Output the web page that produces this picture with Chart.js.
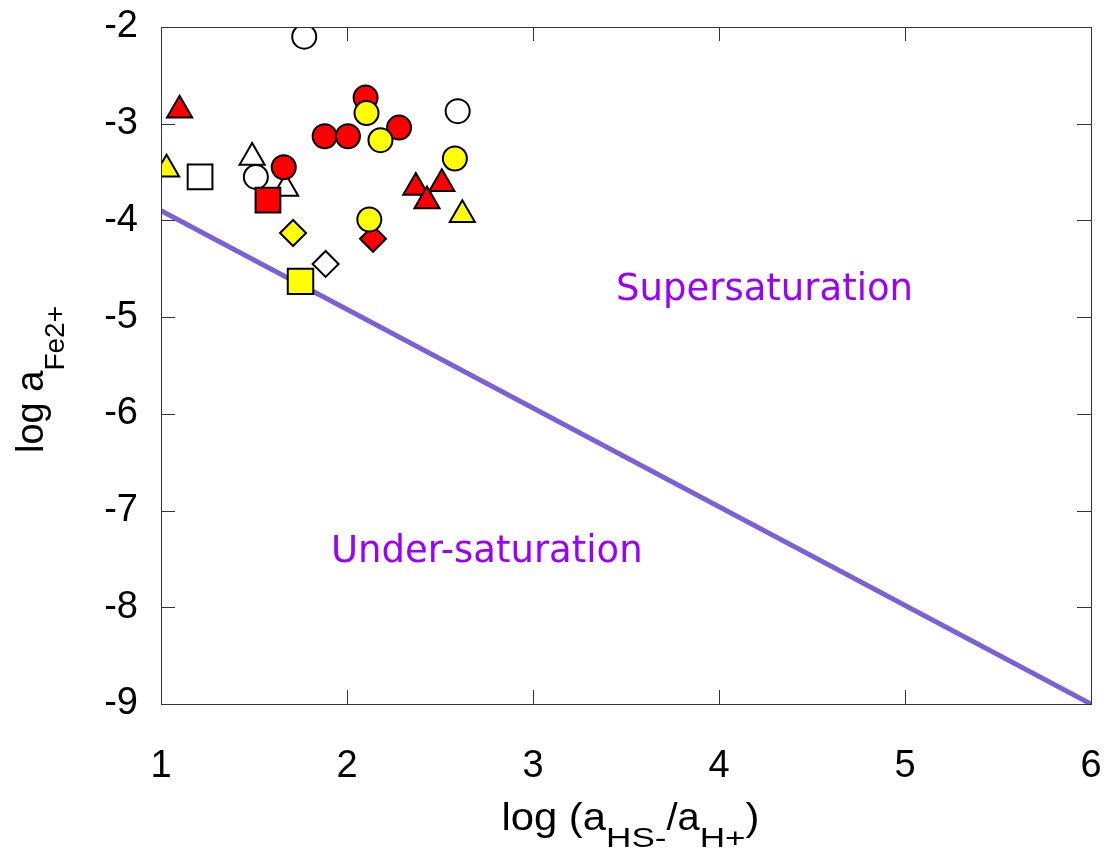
<!DOCTYPE html>
<html>
<head>
<meta charset="utf-8">
<script src="https://cdn.jsdelivr.net/npm/chart.js@4.4.0/dist/chart.umd.min.js"></script>
<style>
  html, body { margin: 0; padding: 0; background: #fff; overflow: hidden; }
  canvas { display: block; }
</style>
</head>
<body>
<canvas id="chart" width="1111" height="861"></canvas>
<script>
// saturation boundary
const boundaryX = [1, 6];
const boundaryY = [-3.9, -9];

// samples, grouped by marker
const openCircle = [[1.77, -2.10], [1.51, -3.55], [2.595, -2.87]];
const redCircle = [[1.88, -3.13], [2.005, -3.13], [2.28, -3.04], [2.10, -2.73], [1.66, -3.45]];
const yellowCircle = [[2.105, -2.89], [2.18, -3.17], [2.58, -3.36], [2.12, -3.99]];
const openTriangle = [[1.49, -3.35], [1.67, -3.67]];
const redTriangle = [[1.10, -2.86], [2.37, -3.66], [2.51, -3.62], [2.43, -3.80]];
const yellowTriangle = [[1.03, -3.47], [2.62, -3.94]];
const openSquare = [[1.21, -3.55]];
const redSquare = [[1.575, -3.79]];
const yellowSquare = [[1.75, -4.63]];
const openDiamond = [[1.885, -4.45]];
const redDiamond = [[2.14, -4.19]];
const yellowDiamond = [[1.71, -4.13]];

const xTicks = [1, 2, 3, 4, 5, 6];
const yTicks = [-9, -8, -7, -6, -5, -4, -3, -2];

const toPts = arr => arr.map(p => ({ x: p[0], y: p[1] }));

function markers(data, color, style, radius) {
    return {
        type: 'scatter',
        data: toPts(data),
        backgroundColor: color,
        borderColor: '#000',
        borderWidth: 2,
        pointStyle: style,
        pointRadius: radius,
        pointHoverRadius: radius,
        order: 1
    };
}

// text with optional horizontal stretch, returns advance
function stretched(ctx, text, x, y, font, sx) {
    ctx.font = font;
    const w = ctx.measureText(text).width * sx;
    ctx.save();
    ctx.translate(x, y);
    ctx.scale(sx, 1);
    ctx.fillText(text, 0, 0);
    ctx.restore();
    return w;
}

// inward ticks on all four sides + titles and region labels
const decor = {
    id: 'decor',
    afterDraw(chart) {
        const { ctx, chartArea: a, scales: { x, y } } = chart;
        ctx.save();
        ctx.strokeStyle = '#333';
        ctx.lineWidth = 1;
        ctx.strokeRect(a.left + 0.5, a.top + 0.5, a.right - a.left, a.bottom - a.top);
        const len = 14;
        ctx.beginPath();
        xTicks.forEach(v => {
            const px = Math.round(x.getPixelForValue(v)) + 0.5;
            ctx.moveTo(px, a.bottom); ctx.lineTo(px, a.bottom - len);
            ctx.moveTo(px, a.top); ctx.lineTo(px, a.top + len);
        });
        yTicks.forEach(v => {
            const py = Math.round(y.getPixelForValue(v)) + 0.5;
            ctx.moveTo(a.left, py); ctx.lineTo(a.left + len, py);
            ctx.moveTo(a.right, py); ctx.lineTo(a.right - len, py);
        });
        ctx.stroke();

        // x title
        const big = '38px "Liberation Sans", Arial, sans-serif';
        const small = '27px "Liberation Sans", Arial, sans-serif';
        const xParts = [['log (a', big, 0, 1.1], ['HS-', small, 17, 1.3], ['/a', big, 0, 1.05], ['H+', small, 17, 1.3], [')', big, 0, 1.1]];
        ctx.fillStyle = '#000';
        ctx.textBaseline = 'alphabetic';
        ctx.textAlign = 'left';
        let total = 0;
        xParts.forEach(p => { ctx.font = p[1]; total += ctx.measureText(p[0]).width * p[3]; });
        let cx = (a.left + a.right) / 2 + 4.5 - total / 2;
        xParts.forEach(p => { cx += stretched(ctx, p[0], cx, 830 + p[2], p[1], p[3]); });

        // y title
        ctx.save();
        ctx.translate(43, 453);
        ctx.rotate(-Math.PI / 2);
        ctx.font = big;
        ctx.fillText('log a', 0, 0);
        const w = ctx.measureText('log a').width;
        ctx.font = '28px "Liberation Sans", Arial, sans-serif';
        ctx.fillText('Fe2+', w, 21);
        ctx.restore();

        // region labels
        ctx.font = '37px "DejaVu Sans", Verdana, sans-serif';
        ctx.fillStyle = '#9900ff';
        ctx.fillText('Supersaturation', 616, 300);
        ctx.fillText('Under-saturation', 331, 562);
        ctx.restore();
    }
};

const noPad = s => { s.paddingLeft = 0; s.paddingRight = 0; s.paddingTop = 0; s.paddingBottom = 0; };

new Chart(document.getElementById('chart'), {
    data: {
        datasets: [
            markers(yellowCircle, '#ffff00', 'circle', 12),
            markers(redCircle, '#ff0000', 'circle', 12),
            markers(redSquare, '#ff0000', 'rect', 17.5),
            markers(yellowSquare, '#ffff00', 'rect', 18),
            markers(openCircle, '#ffffff', 'circle', 12),
            markers(openSquare, '#ffffff', 'rect', 17.5),
            markers(redTriangle, '#ff0000', 'triangle', 14.5),
            markers(yellowTriangle, '#ffff00', 'triangle', 14.5),
            markers(openTriangle, '#ffffff', 'triangle', 14.5),
            markers(yellowDiamond, '#ffff00', 'rectRot', 13),
            markers(redDiamond, '#ff0000', 'rectRot', 13),
            markers(openDiamond, '#ffffff', 'rectRot', 13),
            {
                type: 'line',
                data: boundaryX.map((v, i) => ({ x: v, y: boundaryY[i] })),
                borderColor: '#7b61d9',
                borderWidth: 5,
                pointRadius: 0,
                fill: false,
                order: 10
            }
        ]
    },
    options: {
        responsive: false,
        animation: false,
        events: [],
        layout: { padding: { left: 0, top: 27, right: 18, bottom: 0 } },
        plugins: { legend: { display: false }, tooltip: { enabled: false } },
        scales: {
            x: {
                type: 'linear',
                min: 1, max: 6,
                afterFit: s => { s.height = 157; noPad(s); },
                afterBuildTicks: s => { s.ticks = xTicks.map(v => ({ value: v })); },
                grid: { display: false, drawTicks: false },
                border: { display: false },
                ticks: {
                    color: '#000',
                    padding: 40,
                    maxRotation: 0,
                    font: { family: '"Liberation Sans", Arial, sans-serif', size: 38 }
                }
            },
            y: {
                type: 'linear',
                min: -9, max: -2,
                afterFit: s => { s.width = 161; noPad(s); },
                afterBuildTicks: s => { s.ticks = yTicks.map(v => ({ value: v })); },
                grid: { display: false, drawTicks: false },
                border: { display: false },
                ticks: {
                    color: '#000',
                    padding: 23,
                    font: { family: '"Liberation Sans", Arial, sans-serif', size: 38 }
                }
            }
        }
    },
    plugins: [decor]
});
</script>
</body>
</html>
